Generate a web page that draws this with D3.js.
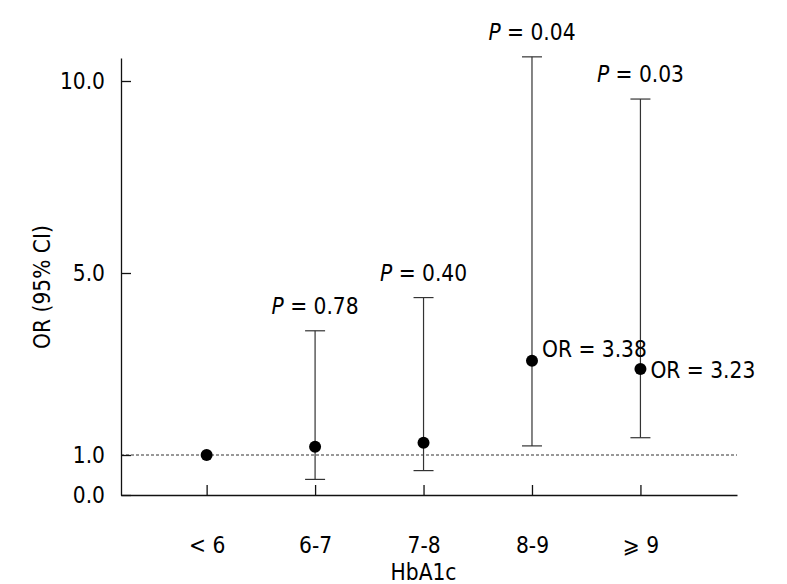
<!DOCTYPE html>
<html>
<head>
<meta charset="utf-8">
<script src="https://cdn.jsdelivr.net/npm/d3@7"></script>
<style>
  html, body { margin: 0; padding: 0; background: #fff; }
  text { font-family: "DejaVu Sans Condensed", "DejaVu Sans", Verdana, sans-serif; font-stretch: condensed; fill: #000; }
</style>
</head>
<body>
<svg id="chart" width="787" height="584"></svg>
<script>
// ---- data ----
const categories = ["< 6", "6-7", "7-8", "8-9", "\u2A7E 9"];
const orValues   = [1.00, 1.18, 1.27, 3.07, 2.89];
const ciLower    = [null, 0.39, 0.61, 1.20, 1.38];
const ciUpper    = [null, 3.73, 4.46, 10.63, 9.53];
const pValues    = [null, "0.78", "0.40", "0.04", "0.03"];
const orLabels   = [null, null, null, "OR = 3.38", "OR = 3.23"];
const yTicks     = [0, 1, 5, 10];
const refValue   = 1;

// ---- layout ----
const svg = d3.select("#chart");
const plotLeft = 121, plotRight = 737, plotBottom = 495, plotTop = 58;
const fontSize = 22.5;

// axis as drawn in the source is not uniformly spaced between its ticks
const y = d3.scaleLinear()
  .domain([0, 1, 5, 10, 10.6])
  .range([plotBottom, 455, 273, 81, plotTop]);

const x = d3.scalePoint()
  .domain(categories)
  .range([plotLeft, plotRight])
  .padding(0.84)
  .align(0.47);

const rows = categories.map((c, i) => ({
  cat: c, or: orValues[i], lo: ciLower[i], hi: ciUpper[i],
  p: pValues[i], orLabel: orLabels[i]
}));

// reference line
svg.append("line")
  .attr("x1", plotLeft).attr("x2", plotRight)
  .attr("y1", y(refValue)).attr("y2", y(refValue))
  .attr("stroke", "#333").attr("stroke-width", 1)
  .attr("stroke-dasharray", "3,2");

// y axis
const yAxis = svg.append("g")
  .attr("transform", `translate(${plotLeft},0)`)
  .call(d3.axisLeft(y).tickValues(yTicks).tickFormat(d3.format(".1f"))
    .tickSizeInner(-10).tickSizeOuter(0).tickPadding(16));

// x axis
const xAxis = svg.append("g")
  .attr("transform", `translate(0,${plotBottom})`)
  .call(d3.axisBottom(x).tickSizeInner(-10).tickSizeOuter(0).tickPadding(42));

[yAxis, xAxis].forEach(g => {
  g.select(".domain").attr("stroke", "#111").attr("stroke-width", 1.3);
  g.selectAll(".tick line").attr("stroke", "#111").attr("stroke-width", 1.3);
  g.selectAll(".tick text")
    .attr("font-family", null)
    .attr("font-size", fontSize).attr("fill", "#000");
});

// error bars
const bars = rows.filter(d => d.lo != null && d.hi != null);
const capW = 10;
const eb = svg.append("g").attr("stroke", "#333").attr("stroke-width", 1.2);
eb.selectAll("line.v").data(bars).join("line").attr("class", "v")
  .attr("x1", d => x(d.cat)).attr("x2", d => x(d.cat))
  .attr("y1", d => y(d.lo)).attr("y2", d => y(d.hi));
eb.selectAll("line.cap-hi").data(bars).join("line").attr("class", "cap-hi")
  .attr("x1", d => x(d.cat) - capW).attr("x2", d => x(d.cat) + capW)
  .attr("y1", d => y(d.hi)).attr("y2", d => y(d.hi));
eb.selectAll("line.cap-lo").data(bars).join("line").attr("class", "cap-lo")
  .attr("x1", d => x(d.cat) - capW).attr("x2", d => x(d.cat) + capW)
  .attr("y1", d => y(d.lo)).attr("y2", d => y(d.lo));

// points
svg.append("g").selectAll("circle").data(rows).join("circle")
  .attr("cx", d => x(d.cat)).attr("cy", d => y(d.or))
  .attr("r", 6).attr("fill", "#000");

// P labels
const pl = svg.append("g").selectAll("text").data(rows.filter(d => d.p)).join("text")
  .attr("x", d => x(d.cat)).attr("y", d => y(d.hi) - 17)
  .attr("text-anchor", "middle").attr("font-size", fontSize);
pl.append("tspan").attr("font-style", "italic").text("P");
pl.append("tspan").text(d => " = " + d.p);

// OR labels (raise a label if it would collide with the next one)
const orRows = rows.filter(d => d.orLabel);
const orY = orRows.map(d => y(d.or) + 9);
for (let i = 0; i < orY.length - 1; i++) {
  if (Math.abs(orY[i + 1] - orY[i]) < 20) orY[i] = y(orRows[i].or) - 4;
}
svg.append("g").selectAll("text").data(orRows).join("text")
  .attr("x", d => x(d.cat) + 10).attr("y", (d, i) => orY[i])
  .attr("font-size", fontSize).text(d => d.orLabel);

// axis titles
svg.append("text")
  .attr("transform", `translate(42,287) rotate(-90)`)
  .attr("text-anchor", "middle").attr("dy", "0.35em")
  .attr("font-size", fontSize).text("OR (95% CI)");

svg.append("text")
  .attr("x", x(categories[2])).attr("y", 580)
  .attr("text-anchor", "middle")
  .attr("font-size", fontSize).text("HbA1c");
</script>
</body>
</html>
